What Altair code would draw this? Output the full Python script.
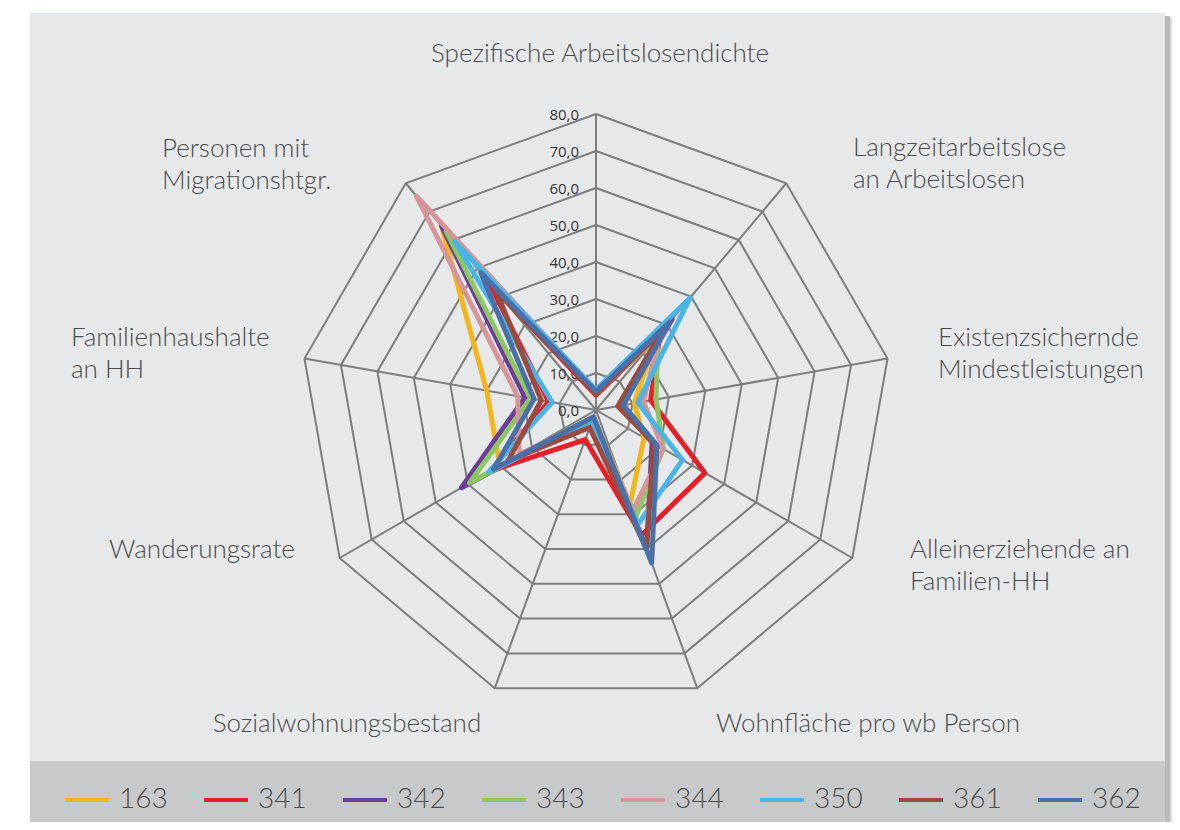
import altair as alt
import pandas as pd

# ---------------- data ----------------
categories = [
    "Spezifische Arbeitslosendichte",
    "Langzeitarbeitslose an Arbeitslosen",
    "Existenzsichernde Mindestleistungen",
    "Alleinerziehende an Familien-HH",
    "Wohnfläche pro wb Person",
    "Sozialwohnungsbestand",
    "Wanderungsrate",
    "Familienhaushalte an HH",
    "Personen mit Migrationshtgr.",
]
series_names = ["163", "341", "342", "343", "344", "350", "361", "362"]
v163 = [4.5, 25.0, 10.5, 15.0, 27.0, 2.0, 30.0, 30.0, 65.0]
v341 = [4.0, 27.0, 15.0, 34.0, 36.0, 8.5, 33.0, 13.0, 45.0]
v342 = [5.0, 32.0, 7.0, 17.5, 40.0, 2.0, 42.0, 19.5, 65.0]
v343 = [4.5, 26.0, 16.5, 21.0, 31.0, 2.0, 39.5, 18.0, 63.0]
v344 = [5.0, 27.0, 13.0, 21.0, 29.0, 2.5, 24.0, 21.5, 75.5]
v350 = [5.5, 39.5, 11.5, 27.0, 33.0, 3.0, 33.5, 12.0, 59.5]
v361 = [4.5, 28.0, 6.0, 18.0, 40.0, 5.0, 27.5, 15.0, 42.0]
v362 = [5.0, 31.0, 7.5, 19.0, 44.0, 2.0, 32.0, 17.0, 48.5]
tick_values = [0, 10, 20, 30, 40, 50, 60, 70, 80]
tick_labels = ["0,0", "10,0", "20,0", "30,0", "40,0", "50,0", "60,0", "70,0", "80,0"]

series_values = [v163, v341, v342, v343, v344, v350, v361, v362]
colors = ["#f2b51c", "#e5202a", "#6c3d99", "#8dc762", "#d69599",
          "#4ab4e6", "#9b4a3e", "#4a70a9"]

# ---------------- styling / layout ----------------
W, H = 1164, 814          # chart size (page minus 8px margin)
CX, CY = 588, 402         # centre of radar in chart pixels
PX_PER_UNIT = 3.7
N = len(categories)

xscale = alt.Scale(domain=[-CX / PX_PER_UNIT, (W - CX) / PX_PER_UNIT], nice=False, zero=False)
yscale = alt.Scale(domain=[-(H - CY) / PX_PER_UNIT, CY / PX_PER_UNIT], nice=False, zero=False)

angle_expr = "datum.idx * 2 * PI / %d" % N

# series rows (closed polygons)
rows = []
for name, vals in zip(series_names, series_values):
    for k in range(N + 1):
        rows.append({"serie": name, "idx": k % N, "ord": k, "v": vals[k % N]})
series_df = pd.DataFrame(rows)

# grid rings
ring_rows = []
for lev in tick_values[1:]:
    for k in range(N + 1):
        ring_rows.append({"ring": lev, "idx": k % N, "ord": k, "v": lev})
ring_df = pd.DataFrame(ring_rows)

# spokes
spoke_rows = []
for k in range(N):
    spoke_rows.append({"idx": k, "ord": 0, "v": 0})
    spoke_rows.append({"idx": k, "ord": 1, "v": tick_values[-1]})
spoke_df = pd.DataFrame(spoke_rows)

tick_df = pd.DataFrame({"v": tick_values, "label": tick_labels, "idx": 0})

# category label layout (text lines, chart pixel positions)
label_layout = [
    # (lines, x, y_first_line, align)
    (["Spezifische Arbeitslosendichte"], 592, 46, "center"),
    (["Langzeitarbeitslose", "an Arbeitslosen"], 845, 140, "left"),
    (["Existenzsichernde", "Mindestleistungen"], 930, 330, "left"),
    (["Alleinerziehende an", "Familien-HH"], 902, 542, "left"),
    (["Wohnfläche pro wb Person"], 860, 716, "center"),
    (["Sozialwohnungsbestand"], 339, 716, "center"),
    (["Wanderungsrate"], 194, 542, "center"),
    (["Familienhaushalte", "an HH"], 63, 330, "left"),
    (["Personen mit", "Migrationshtgr."], 154, 141, "left"),
]
LINE_GAP = 32
lab_rows = []
for lines, x, y, al in label_layout:
    for i, t in enumerate(lines):
        lab_rows.append({"t": t, "px": x, "py": y + i * LINE_GAP, "al": al})
lab_df = pd.DataFrame(lab_rows)

LABEL_FONT = "Lato"

one = pd.DataFrame({"a": [0]})

# backgrounds
panel = alt.Chart(one).mark_rect(color="#e7e8ea").encode(
    x=alt.value(22), x2=alt.value(1157), y=alt.value(5), y2=alt.value(753))
band = alt.Chart(one).mark_rect(color="#c8c9cb").encode(
    x=alt.value(22), x2=alt.value(1157), y=alt.value(753), y2=alt.value(H))
shadow1 = alt.Chart(one).mark_rect(color="#b9babc").encode(
    x=alt.value(1157), x2=alt.value(1162), y=alt.value(8), y2=alt.value(H))
shadow2 = alt.Chart(one).mark_rect(color="#dcdcdd").encode(
    x=alt.value(1162), x2=alt.value(1168), y=alt.value(10), y2=alt.value(H))


def polar(chart):
    return chart.transform_calculate(
        ang=angle_expr
    ).transform_calculate(
        px="sin(datum.ang) * datum.v", py="cos(datum.ang) * datum.v"
    )


rings = polar(alt.Chart(ring_df)).mark_line(
    color="#7d7d7d", strokeWidth=2, strokeJoin="miter").encode(
    x=alt.X("px:Q", scale=xscale, axis=None),
    y=alt.Y("py:Q", scale=yscale, axis=None),
    detail="ring:N",
    order="ord:Q",
)

spokes = polar(alt.Chart(spoke_df)).mark_line(
    color="#7d7d7d", strokeWidth=2).encode(
    x=alt.X("px:Q", scale=xscale, axis=None),
    y=alt.Y("py:Q", scale=yscale, axis=None),
    detail="idx:N",
    order="ord:Q",
)

ticks = alt.Chart(tick_df).mark_text(
    align="right", baseline="middle", dx=-17, dy=1,
    font="Open Sans", fontSize=15, color="#333333").encode(
    x=alt.X("idx:Q", scale=xscale, axis=None),
    y=alt.Y("v:Q", scale=yscale, axis=None),
    text="label:N",
)

lines = polar(alt.Chart(series_df)).mark_line(
    strokeWidth=5, strokeJoin="round", strokeCap="round").encode(
    x=alt.X("px:Q", scale=xscale, axis=None),
    y=alt.Y("py:Q", scale=yscale, axis=None),
    color=alt.Color(
        "serie:N",
        scale=alt.Scale(domain=series_names, range=colors),
        legend=alt.Legend(
            title=None, orient="none", legendX=55, legendY=768,
            direction="horizontal", columns=8,
            symbolType="stroke", symbolSize=1936, symbolStrokeWidth=4,
            labelFont=LABEL_FONT, labelFontSize=28, labelFontWeight=300,
            labelColor="#4a4a4a", labelOffset=8, columnPadding=28,
            padding=0,
        ),
    ),
    order="ord:Q",
)

cat_labels = []
for al in ["left", "center"]:
    sub = lab_df[lab_df["al"] == al]
    cat_labels.append(
        alt.Chart(sub).mark_text(
            align=al, baseline="middle", font=LABEL_FONT, fontSize=26,
            fontWeight=300, color="#4a4a4a").encode(
            x=alt.X("px:Q", scale=None),
            y=alt.Y("py:Q", scale=None),
            text="t:N",
        )
    )

chart = alt.layer(
    panel, band, shadow1, shadow2, rings, spokes, ticks, lines, *cat_labels
).properties(
    width=W, height=H, padding=0,
    autosize=alt.AutoSizeParams(type="none"),
    background="white",
).configure_view(stroke=None)

chart.save("out.html", embed_options={"renderer": "svg", "actions": False})
